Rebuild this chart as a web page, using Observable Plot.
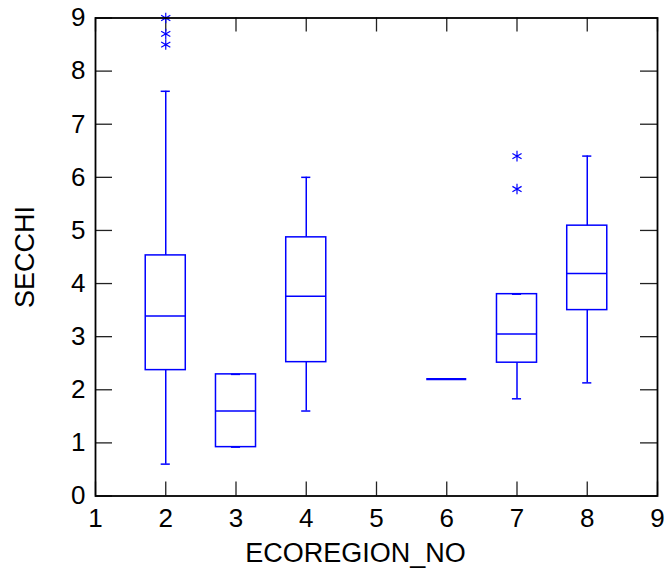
<!DOCTYPE html>
<html>
<head>
<meta charset="utf-8">
<script src="https://cdn.jsdelivr.net/npm/d3@7"></script>
<script src="https://cdn.jsdelivr.net/npm/@observablehq/plot@0.6"></script>
<style>
  html, body { margin: 0; padding: 0; background: #fff; }
  #chart svg { display: block; }
</style>
</head>
<body>
<div id="chart"></div>
<script>
// Box-plot summaries per ecoregion
const ecoregions = [2, 3, 4, 6, 7, 8];
const whiskerLow  = [0.60, 0.92, 1.60, 2.20, 1.83, 2.13];
const q1          = [2.37, 0.92, 2.52, 2.20, 2.51, 3.50];
const median      = [3.39, 1.60, 3.76, 2.20, 3.05, 4.19];
const q3          = [4.53, 2.29, 4.87, 2.20, 3.80, 5.09];
const whiskerHigh = [7.62, 2.29, 6.00, 2.20, 3.80, 6.40];

// Outliers (asterisks)
const outlierEco   = [2, 2, 2, 7, 7];
const outlierValue = [9.00, 8.70, 8.50, 6.40, 5.78];

// Tick values
const xTicks = [1, 2, 3, 4, 5, 6, 7, 8, 9];
const yTicks = [0, 1, 2, 3, 4, 5, 6, 7, 8, 9];

const boxes = ecoregions.map((e, i) => ({
  eco: e, lo: whiskerLow[i], q1: q1[i], med: median[i], q3: q3[i], hi: whiskerHigh[i]
}));
const outliers = outlierEco.map((e, i) => ({eco: e, v: outlierValue[i]}));

const blue = "#0000ff";
const half = 0.285;   // half box width (x units)
const cap = 0.065;    // half whisker-cap width

const font = "'Liberation Sans', Arial, sans-serif";

const chart = Plot.plot({
  width: 666,
  height: 576,
  marginLeft: 95,
  marginRight: 9,
  marginTop: 17.5,
  marginBottom: 80.5,
  style: {fontFamily: font, fontSize: "26px", background: "#fff", color: "#000"},
  x: {domain: [1, 9]},
  y: {domain: [0, 9]},
  marks: [
    // inward ticks on all four sides
    Plot.tickX(xTicks, {x: d => d, insetTop: 478 - 14, stroke: "#222", strokeWidth: 1.3}),
    Plot.tickX(xTicks, {x: d => d, insetBottom: 478 - 14, stroke: "#222", strokeWidth: 1.3}),
    Plot.tickY(yTicks, {y: d => d, insetRight: 562 - 17, stroke: "#222", strokeWidth: 1.3}),
    Plot.tickY(yTicks, {y: d => d, insetLeft: 562 - 17, stroke: "#222", strokeWidth: 1.3}),
    Plot.axisX(xTicks, {tickSize: 0, tickPadding: 13, label: null, fontSize: 26, tickFormat: "d"}),
    Plot.axisY(yTicks, {tickSize: 0, tickPadding: 10, label: null, fontSize: 26, tickFormat: "d"}),
    // whiskers
    Plot.ruleX(boxes, {x: "eco", y1: "q3", y2: "hi", stroke: blue, strokeWidth: 1.5}),
    Plot.ruleX(boxes, {x: "eco", y1: "lo", y2: "q1", stroke: blue, strokeWidth: 1.5}),
    Plot.ruleY(boxes, {y: "hi", x1: d => d.eco - cap, x2: d => d.eco + cap, stroke: blue, strokeWidth: 1.5}),
    Plot.ruleY(boxes, {y: "lo", x1: d => d.eco - cap, x2: d => d.eco + cap, stroke: blue, strokeWidth: 1.5}),
    // boxes
    Plot.rect(boxes.filter(d => d.q3 > d.q1), {
      x1: d => d.eco - half, x2: d => d.eco + half, y1: "q1", y2: "q3",
      fill: "none", stroke: blue, strokeWidth: 1.5
    }),
    // medians
    Plot.ruleY(boxes, {y: "med", x1: d => d.eco - half, x2: d => d.eco + half, stroke: blue,
      strokeWidth: d => d.q3 > d.q1 ? 1.5 : 2.2}),
    // outliers
    Plot.dot(outliers, {x: "eco", y: "v", symbol: "asterisk", r: 5, stroke: blue, strokeWidth: 1.2}),
    // frame
    Plot.frame({stroke: "#000", strokeWidth: 1.8}),
    // axis titles
    Plot.text(["ECOREGION_NO"], {frameAnchor: "bottom", textAnchor: "middle", lineAnchor: "middle",
      dx: -21, dy: 57, fontSize: 27, text: d => d}),
    Plot.text(["SECCHI"], {frameAnchor: "left", textAnchor: "middle", lineAnchor: "middle",
      dx: -70, rotate: -90, fontSize: 27, text: d => d})
  ]
});
document.getElementById("chart").appendChild(chart);
</script>
</body>
</html>
